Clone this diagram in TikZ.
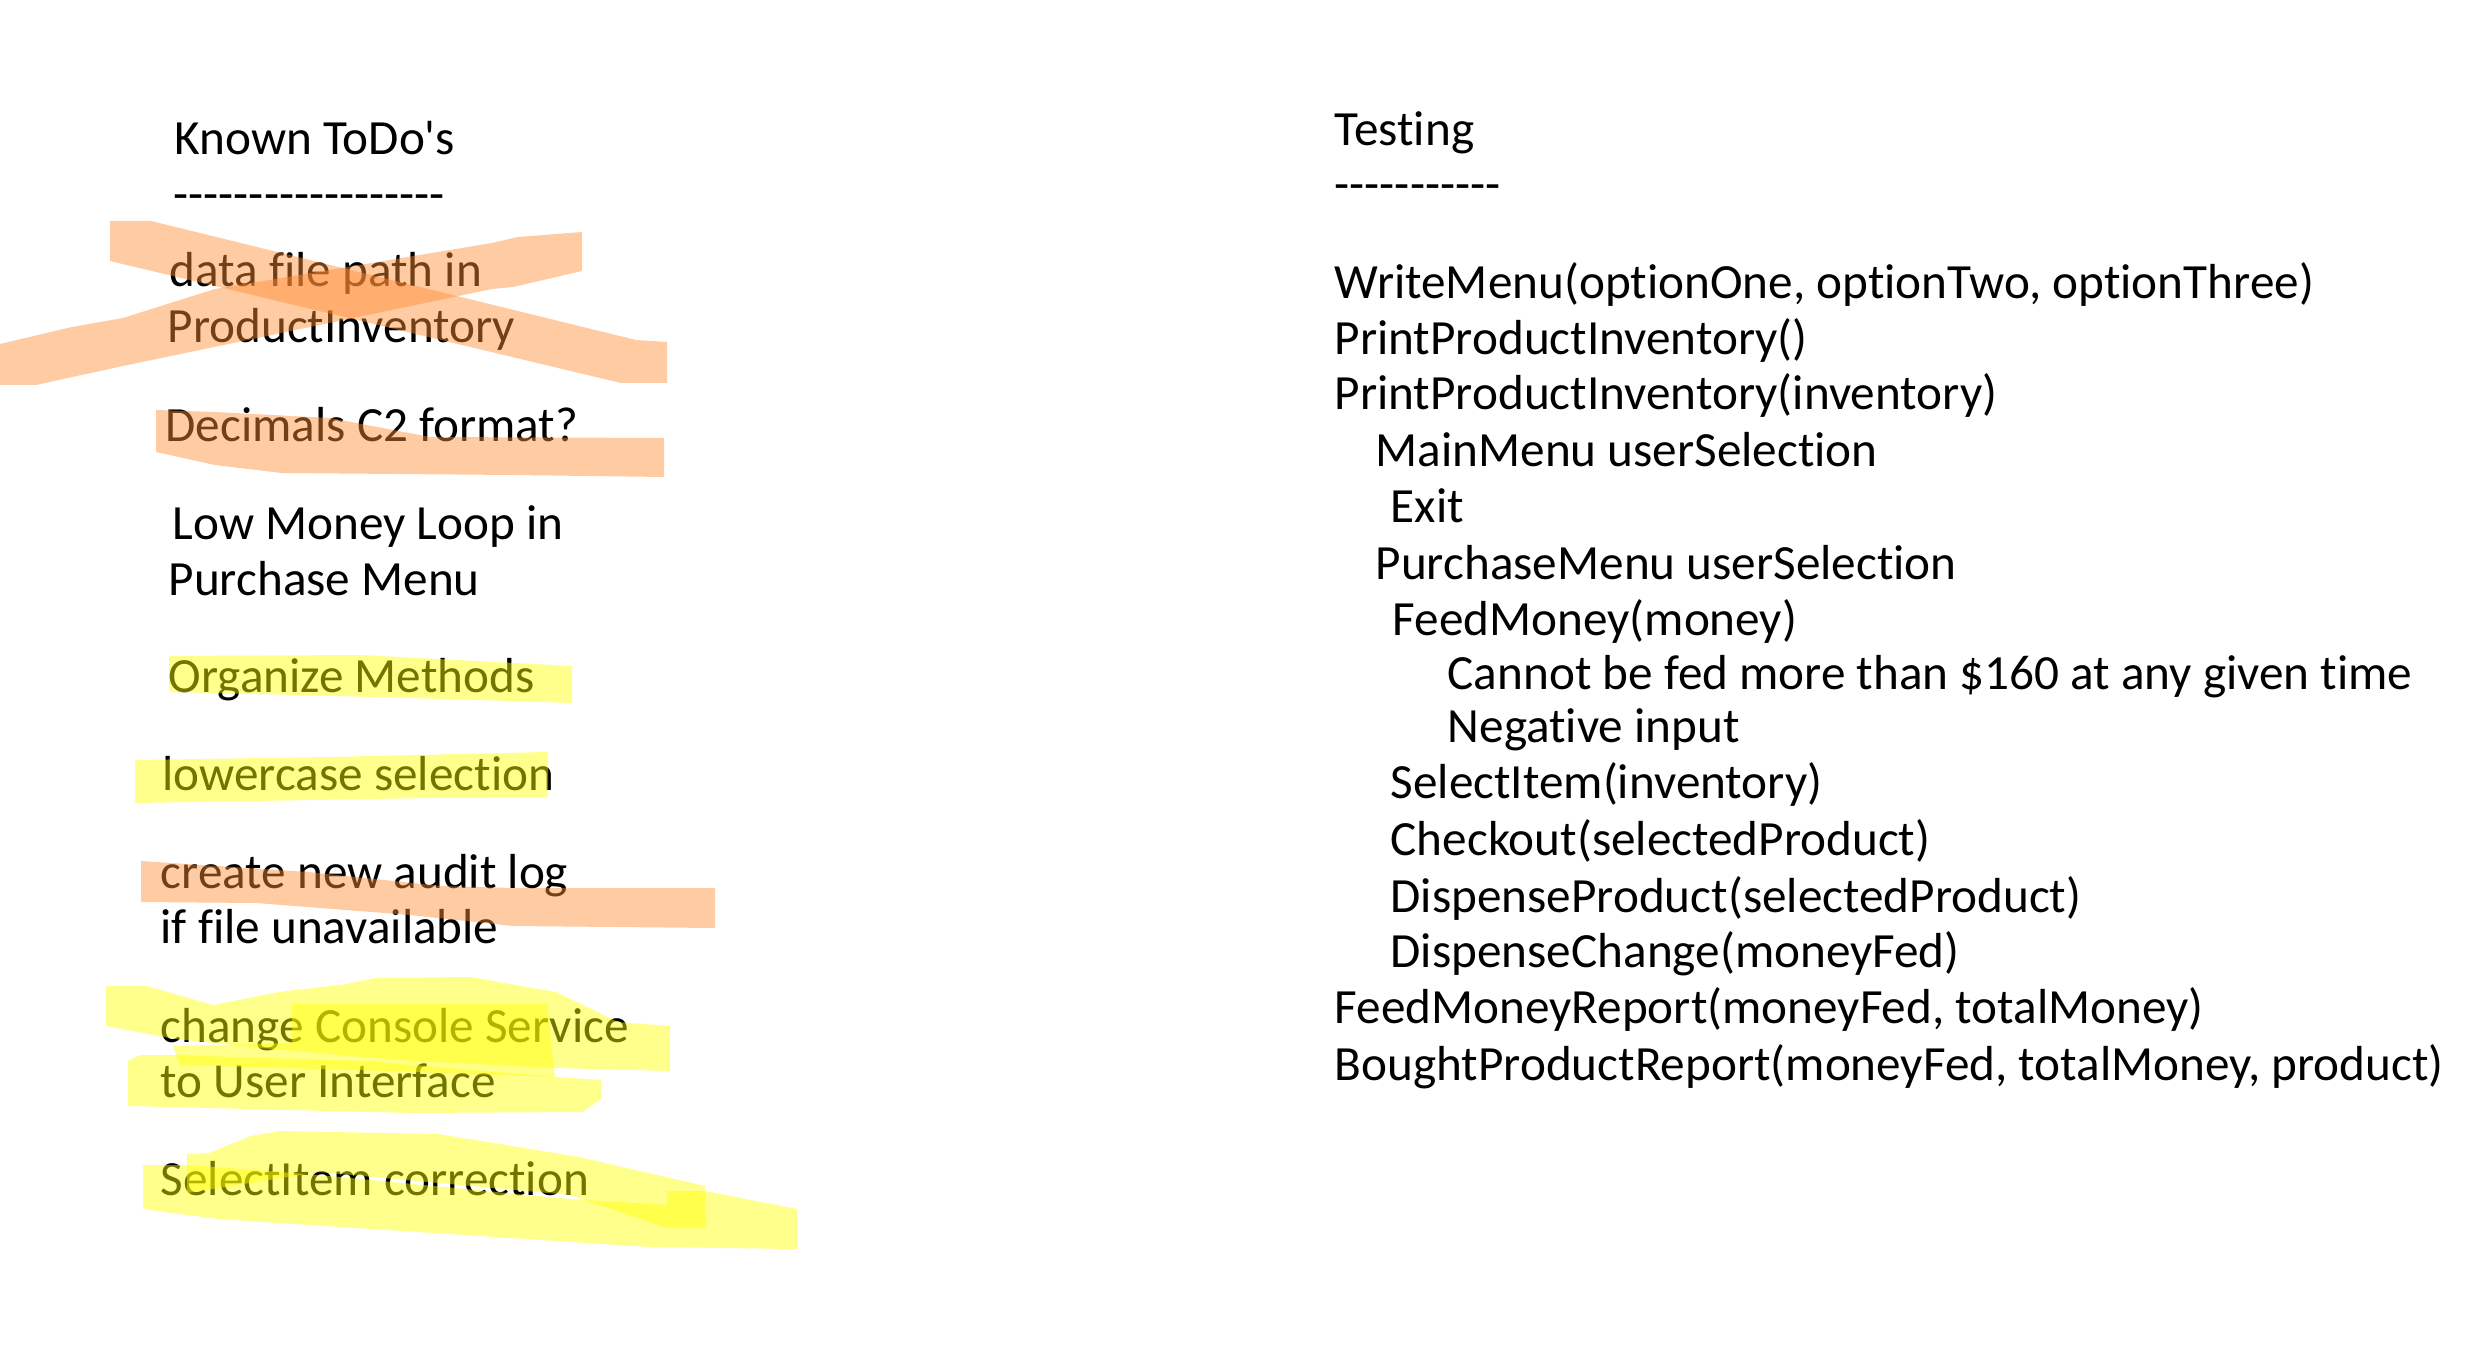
\documentclass[tikz,border=0pt]{standalone}
\usepackage{fontspec}
\usepackage{xcolor}
\usepackage{tikz}
\usetikzlibrary{positioning}
\newfontfamily\handfont[Ligatures=NoCommon]{Carlito}
\definecolor{hlpeach}{RGB}{255,140,50}
\definecolor{hlyel}{RGB}{255,255,0}

\begin{document}
\begin{tikzpicture}[
  x=0.1mm, y=-0.1mm,
  note/.style={anchor=base west, inner sep=0pt, font=\handfont\fontsize{14}{16}\selectfont},
  hlorange/.style={fill=hlpeach, fill opacity=0.45},
  hlyellow/.style={fill=hlyel, fill opacity=0.45}
]
  \fill[white] (0,0) rectangle (2475,1356);
  \useasboundingbox (0,0) rectangle (2475,1356);
  % left column: todo list
  \node[note] (todo) at (174,155) {Known ToDo's};
  \node[note] (todorule) at (173,211) {------------------};
  \node[note] (datapath) at (169,287) {data file path in};
  \node[note] (datapath2) at (167,343) {ProductInventory};
  \node[note] (decimals) at (165,442) {Decimals C2 format?};
  \node[note] (lowmoney) at (172,539) {Low Money Loop in};
  \node[note] (lowmoney2) at (168,595) {Purchase Menu};
  \node[note] (organize) at (168,692) {Organize Methods};
  \node[note] (lowercase) at (162,790) {lowercase selection};
  \node[note] (auditlog) at (160,888) {create new audit log};
  \node[note] (auditlog2) at (160,943) {if file unavailable};
  \node[note] (console) at (160,1042) {change Console Service};
  \node[note] (console2) at (160,1097) {to User Interface};
  \node[note] (selectfix) at (160,1195) {SelectItem correction};
  % right column: testing
  \node[note] (testing) at (1334,146) {Testing};
  \node[note] (testrule) at (1334,201) {-----------};
  \node[note] (writemenu) at (1334,299) {WriteMenu(optionOne, optionTwo, optionThree)};
  \node[note] (printinv) at (1334,355) {PrintProductInventory()};
  \node[note] (printinv2) at (1334,410) {PrintProductInventory(inventory)};
  \node[note] (mainsel) at (1375,466) {MainMenu userSelection};
  \node[note] (exit) at (1390,522) {Exit};
  \node[note] (purchsel) at (1375,579) {PurchaseMenu userSelection};
  \node[note] (feed) at (1392,635) {FeedMoney(money)};
  \node[note] (feedmax) at (1447,689) {Cannot be fed more than \$160 at any given time};
  \node[note] (feedneg) at (1447,742) {Negative input};
  \node[note] (select) at (1390,798) {SelectItem(inventory)};
  \node[note] (checkout) at (1390,855) {Checkout(selectedProduct)};
  \node[note] (dispprod) at (1390,912) {DispenseProduct(selectedProduct)};
  \node[note] (dispchange) at (1390,967) {DispenseChange(moneyFed)};
  \node[note] (feedreport) at (1334,1023) {FeedMoneyReport(moneyFed, totalMoney)};
  \node[note] (boughtreport) at (1334,1080) {BoughtProductReport(moneyFed, totalMoney, product)};
  % highlighter strokes (drawn over the text)
  \fill[hlorange] (110,221) -- (151,221) -- (636,340) -- (667,342) -- (667,383) -- (621,383) -- (110,261) -- cycle;
  \fill[hlorange] (0,344) -- (72,327) -- (123,318) -- (215,289) -- (492,243) -- (518,237) -- (582,232)
    -- (582,271) -- (513,287) -- (492,289) -- (123,366) -- (77,376) -- (36,385) -- (0,385) -- cycle;
  \fill[hlorange] (156,410) -- (215,412) -- (330,418) -- (430,437) -- (664,438) -- (664,477)
    -- (513,475) -- (282,473) -- (215,465) -- (156,452) -- cycle;
  \fill[hlyellow] (169,656) -- (360,655) -- (572,666) -- (572,703) -- (480,700) -- (300,695) -- (169,692) -- cycle;
  \fill[hlyellow] (135,760) -- (330,757) -- (548,752) -- (548,797) -- (430,798) -- (135,803) -- cycle;
  \fill[hlorange] (141,861) -- (308,872) -- (441,886) -- (513,888) -- (715,888) -- (715,928)
    -- (513,926) -- (410,915) -- (256,903) -- (141,902) -- cycle;
  \fill[hlyellow] (106,986) -- (147,986) -- (213,1005) -- (279,992) -- (347,984) -- (375,978) -- (470,977)
    -- (556,992) -- (618,1022) -- (670,1026) -- (670,1071) -- (556,1068) -- (413,1061) -- (294,1051)
    -- (175,1039) -- (106,1026) -- cycle;
  \fill[hlyellow] (128,1061) -- (140,1055) -- (173,1055) -- (366,1061) -- (556,1077) -- (601,1080)
    -- (601,1099) -- (582,1112) -- (413,1113) -- (128,1106) -- cycle;
  \fill[hlyellow] (292,1004) -- (547,1004) -- (555,1077) -- (390,1071) -- (180,1065) -- (173,1046) -- (292,1043) -- cycle;
  \fill[hlyellow] (187,1154) -- (209,1153) -- (251,1136) -- (280,1131) -- (438,1134) -- (579,1157) -- (705,1186)
    -- (705,1228) -- (667,1228) -- (570,1195) -- (319,1172) -- (187,1193) -- cycle;
  \fill[hlyellow] (143,1165) -- (187,1165) -- (319,1175) -- (570,1199) -- (667,1205) -- (667,1191) -- (705,1191)
    -- (797,1209) -- (797,1249) -- (650,1247) -- (218,1219) -- (143,1209) -- cycle;
\end{tikzpicture}
\end{document}
